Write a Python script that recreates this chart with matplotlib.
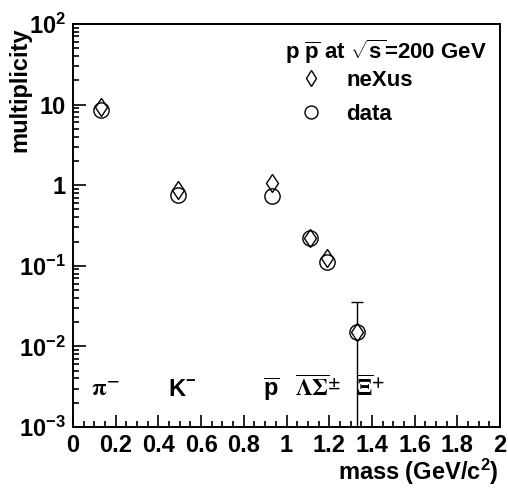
#!/usr/bin/env python3
"""
Multiplicités des particules en fonction de la masse, p pbar à 200 GeV
Comparaison neXus / data
"""

import matplotlib
matplotlib.use('Agg')
import matplotlib.pyplot as plt
from matplotlib.ticker import MultipleLocator, LogLocator, NullFormatter

# Masses des particules (GeV/c^2)
masses = [0.13, 0.49, 0.932, 1.11, 1.19, 1.332]

# Multiplicités
nexus_mult = [9.4, 0.87, 1.07, 0.22, 0.125, 0.0152]
data_mult = [8.6, 0.75, 0.74, 0.223, 0.112, 0.0152]

# Barre d'erreur du Xi (seule visible)
xi_err = 0.02

# Etiquettes des particules
part_labels = [r'$\pi^{-}$', r'K$^{\mathbf{-}}$', r'$\overline{\mathrm{p}}$',
               r'$\overline{\Lambda}\overline{\Sigma}^{\pm}$', r'$\overline{\Xi}^{\mathbf{+}}$']
part_x = [0.15, 0.51, 0.93, 1.15, 1.395]
part_serif = [True, False, False, True, True]

ytick_vals = [1e-3, 1e-2, 1e-1, 1, 10, 100]
ytick_labels = [r'$10^{-3}$', r'$10^{-2}$', r'$10^{-1}$', '1', '10', r'$10^{2}$']

FS = 17


def main():
    plt.rcParams['font.family'] = ['Liberation Sans', 'DejaVu Sans']
    plt.rcParams['font.weight'] = 'bold'
    plt.rcParams['mathtext.fontset'] = 'custom'
    plt.rcParams['mathtext.rm'] = 'Liberation Sans:bold'
    plt.rcParams['mathtext.bf'] = 'Liberation Sans:bold'
    plt.rcParams['mathtext.it'] = 'Liberation Sans:bold'
    plt.rcParams['mathtext.default'] = 'rm'

    fig = plt.figure(figsize=(5.08, 4.91), dpi=100)
    ax = fig.add_axes([73 / 508, 64 / 491, 427 / 508, 403 / 491])

    ax.set_yscale('log')
    ax.set_xlim(0, 2)
    ax.set_ylim(1e-3, 1e2)

    # Barre d'erreur du Xi (descend sous l'axe)
    x_xi, y_xi = masses[-1], data_mult[-1]
    lo = max(y_xi - xi_err, 1e-3)
    ax.vlines(x_xi, lo, y_xi + xi_err, color='black', lw=1.0, zorder=1)
    ax.plot([x_xi], [y_xi + xi_err], marker='_', ms=8, mew=1.0, color='black', zorder=1)

    h_nexus, = ax.plot(masses, nexus_mult, ls='none', marker='d', ms=9.5,
                       mfc='none', mec='black', mew=1.0, zorder=3, label='neXus')
    h_data, = ax.plot(masses, data_mult, ls='none', marker='o', ms=11,
                      mfc='white', mec='black', mew=1.0, zorder=2, label='data')

    # Etiquettes des particules
    for lab, xp, serif in zip(part_labels, part_x, part_serif):
        if serif:
            ax.text(xp, 2.4e-3, lab, ha='center', va='baseline', fontsize=FS,
                    fontweight='normal', math_fontfamily='stix')
        else:
            ax.text(xp, 2.4e-3, lab, ha='center', va='baseline', fontsize=FS)

    # Axes style ROOT
    ax.xaxis.set_major_locator(MultipleLocator(0.2))
    ax.xaxis.set_minor_locator(MultipleLocator(0.05))
    ax.xaxis.set_major_formatter(plt.FuncFormatter(lambda v, p: f'{v:g}'))
    ax.set_yticks(ytick_vals)
    ax.set_yticklabels(ytick_labels)
    ax.yaxis.set_minor_locator(LogLocator(base=10, subs=range(2, 10), numticks=20))
    ax.yaxis.set_minor_formatter(NullFormatter())

    ax.tick_params(which='major', direction='in', length=9, width=1.2,
                   labelsize=FS, top=False, right=False, pad=5)
    ax.tick_params(which='minor', direction='in', length=4.5, width=1.2,
                   top=False, right=False)
    for sp in ax.spines.values():
        sp.set_linewidth(1.4)

    fig.text(20 / 508, 1 - 28 / 491, 'multiplicity', rotation=90, ha='center',
             va='top', fontsize=FS)
    fig.text(499 / 508, 1 - 487 / 491, r'mass (GeV/c$^{2}$)', ha='right',
             va='bottom', fontsize=FS)

    # Titre de la légende
    ax.text(0.497, 0.93, r'p $\overline{\mathrm{p}}$ at $\sqrt{\mathrm{s}}$=200 GeV',
            transform=ax.transAxes, ha='left', va='center', fontsize=FS - 1)

    ax.legend(handles=[h_nexus, h_data], loc='upper left',
              bbox_to_anchor=(0.52, 0.886), frameon=False,
              fontsize=FS - 1, handletextpad=0.9, labelspacing=0.58,
              borderpad=0, borderaxespad=0, handlelength=1.4, markerscale=0.85)

    fig.savefig('out.png', dpi=100)


if __name__ == '__main__':
    main()
